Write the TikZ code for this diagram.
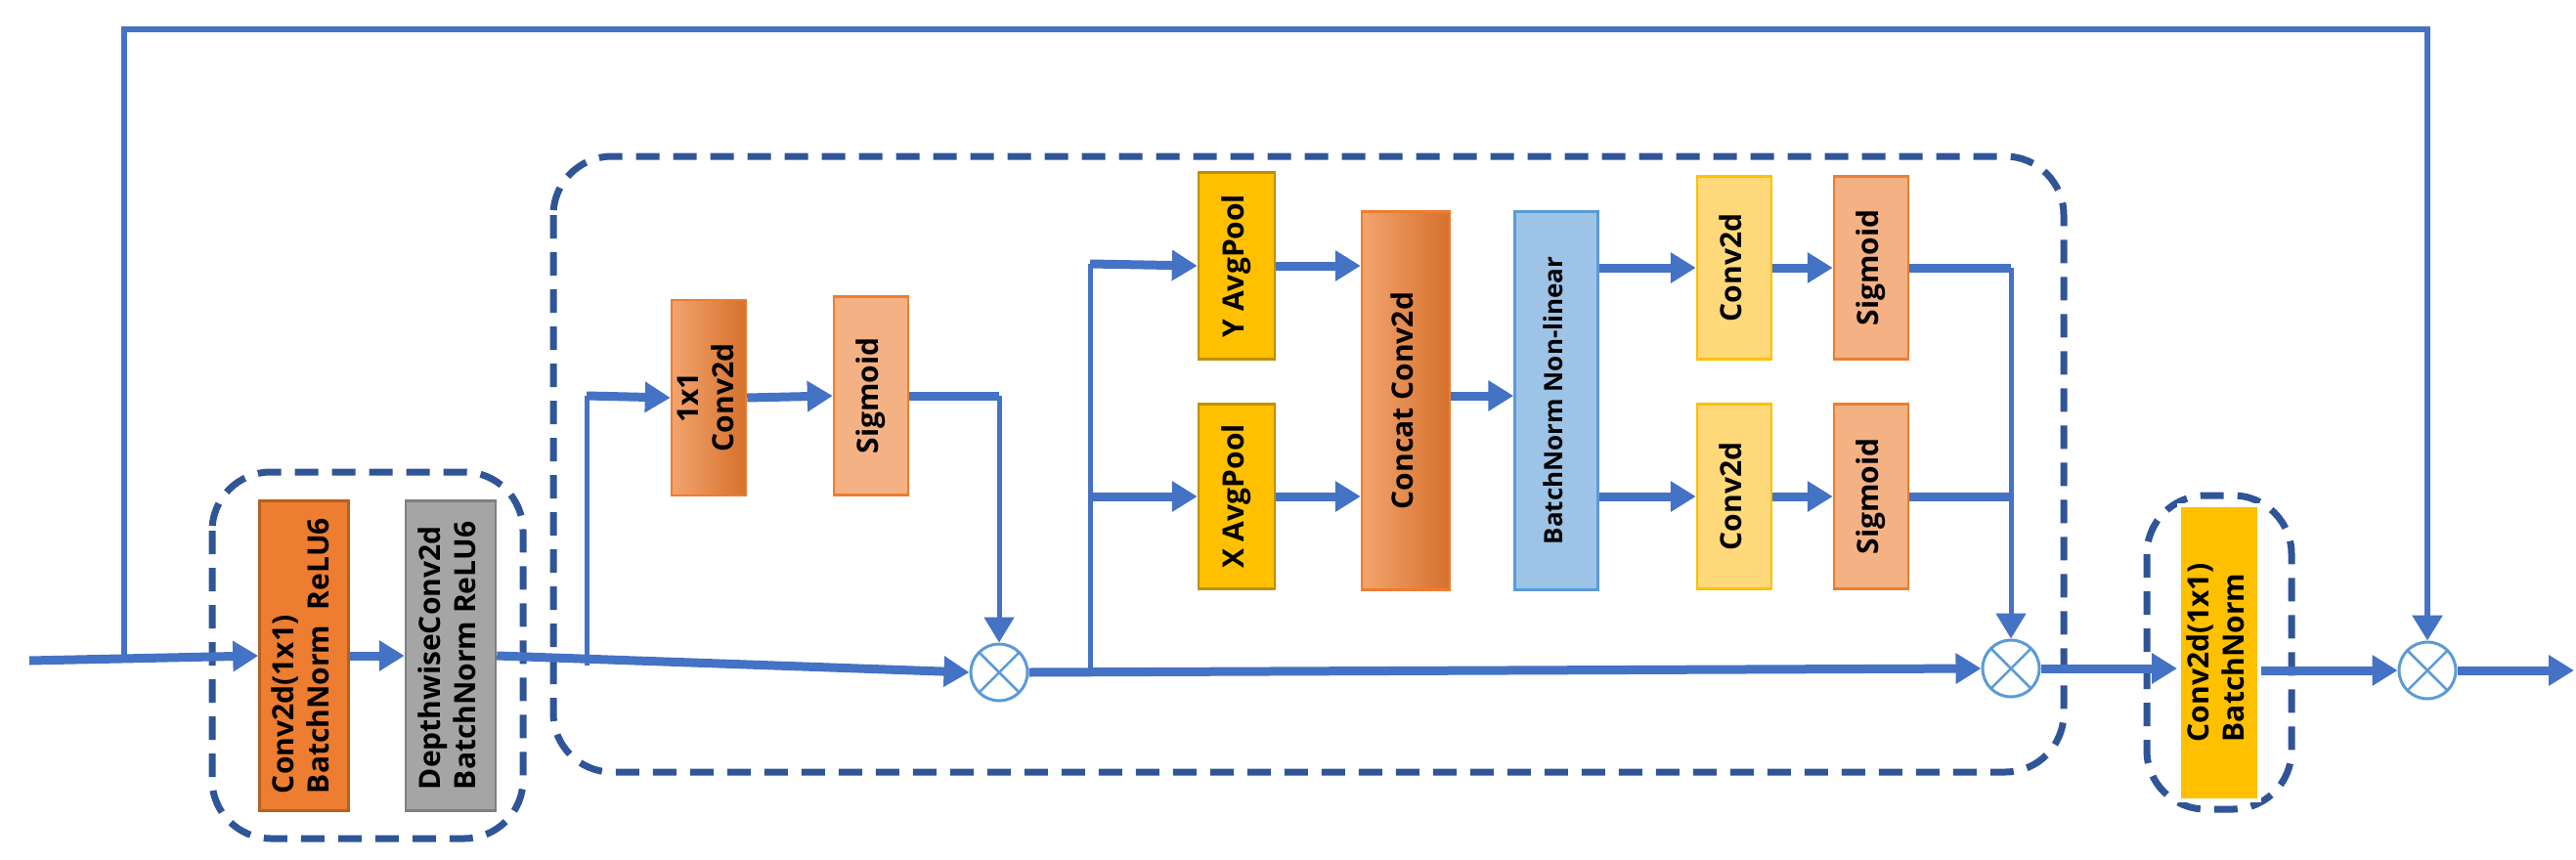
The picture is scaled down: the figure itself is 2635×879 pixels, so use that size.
\documentclass[tikz,border=0pt]{standalone}
\usepackage{fontspec}
\setmainfont{Open Sans}
\usetikzlibrary{arrows.meta,calc}
\definecolor{ln}{HTML}{4472C4}
\definecolor{dsh}{HTML}{2F5597}
\definecolor{org}{HTML}{ED7D31}
\definecolor{orgd}{HTML}{B85F1F}
\definecolor{sig}{HTML}{F4B183}
\definecolor{yel}{HTML}{FFC000}
\definecolor{yeld}{HTML}{BF9000}
\definecolor{lyel}{HTML}{FFD97A}
\definecolor{gr}{HTML}{A5A5A5}
\definecolor{grd}{HTML}{7F7F7F}
\definecolor{lb}{HTML}{9DC3E6}
\definecolor{lbd}{HTML}{5B9BD5}
\newcommand{\vt}[1]{\rotatebox{90}{\begin{tabular}{@{}l@{}}#1\end{tabular}}}
\begin{document}
\begin{tikzpicture}[x=1pt,y=-1pt,
  box/.style={draw,line width=2.5pt,inner sep=0pt,font=\fontsize{30}{36}\selectfont\bfseries},
  grp/.style={draw=dsh,line width=7pt,dash pattern=on 24pt off 14pt,rounded corners=60pt},
  thick/.style={draw=ln,line width=9pt},
  thin/.style={draw=ln,line width=5pt},
  arr/.style={-{Triangle[length=26pt,width=30pt]}},
  mul/.style={circle,draw=lbd,fill=white,line width=3pt,minimum size=58pt,inner sep=0pt,
    path picture={\draw[lbd,line width=2.5pt] (path picture bounding box.north west)--(path picture bounding box.south east) (path picture bounding box.north east)--(path picture bounding box.south west);}}]
\useasboundingbox (0,0) rectangle (2635,879);
% groups
\draw[grp] (217,483) rectangle (535,858);
\draw[grp] (566,160) rectangle (2111,790);
\draw[grp] (2196,507) rectangle (2344,828);
% boxes
\node[box,fill=org,draw=orgd,minimum width=91pt,minimum height=317pt] (c1) at (311,671) {\vt{Conv2d(1x1)\\BatchNorm\ \ ReLU6}};
\node[box,fill=gr,draw=grd,minimum width=92pt,minimum height=317pt] (c2) at (461,671) {\vt{DepthwiseConv2d\\BatchNorm ReLU6}};
\node[box,left color=org!70!white,right color=org!90!black,draw=org,minimum width=76pt,minimum height=200pt] (k1) at (725,407) {\vt{\hfill1x1\hfill\null\\Conv2d}};
\node[box,fill=sig,draw=org,minimum width=76pt,minimum height=203pt] (s1) at (891,405) {\vt{Sigmoid}};
\node[box,fill=yel,draw=yeld,minimum width=78pt,minimum height=191pt] (ya) at (1265,272) {\vt{Y AvgPool}};
\node[box,fill=yel,draw=yeld,minimum width=78pt,minimum height=189pt] (xa) at (1265,508) {\vt{X AvgPool}};
\node[box,left color=org!70!white,right color=org!90!black,draw=org,minimum width=90pt,minimum height=387pt] (cc) at (1438,410) {\vt{Concat Conv2d}};
\node[box,fill=lb,draw=lbd,minimum width=85pt,minimum height=387pt,font=\fontsize{26}{30}\selectfont\bfseries] (bn) at (1592,410) {\vt{BatchNorm Non-linear}};
\node[box,fill=lyel,draw=yel,minimum width=76pt,minimum height=187pt] (ct) at (1774,274) {\vt{Conv2d}};
\node[box,fill=lyel,draw=yel,minimum width=76pt,minimum height=189pt] (cb) at (1774,508) {\vt{Conv2d}};
\node[box,fill=sig,draw=org,minimum width=76pt,minimum height=187pt] (st) at (1914,274) {\vt{Sigmoid}};
\node[box,fill=sig,draw=org,minimum width=76pt,minimum height=189pt] (sb) at (1914,508) {\vt{Sigmoid}};
\node[box,fill=yel,draw=white,line width=4pt,minimum width=82pt,minimum height=302pt] (fc) at (2270,668) {\vt{Conv2d(1x1)\\BatchNorm}};
% multipliers
\node[mul] (m1) at (1022,688) {};
\node[mul] (m2) at (2057,684) {};
\node[mul] (m3) at (2483,686) {};
\coordinate (in) at (30,676);
\coordinate (out) at (2633,686);
\coordinate (top) at (127,676);
% connectors
\draw[thick,arr] (in) -- (c1.west);
\draw[thin,line width=6pt,arr] (top) -- (127,30) -- (2483,30) -- (m3.north);
\draw[thick,arr] (c1.east) -- (c2.west);
\draw[thick,arr] (c2.east) -- (m1.west);
\draw[thin] (600,681) -- (600,405);
\draw[thick,arr] (600,405) -- (k1.west);
\draw[thick,arr] (k1.east) -- (s1.west);
\draw[thick] (s1.east) -- (1022,405);
\draw[thin,arr] (1022,405) -- (m1.north);
\draw[thick,arr] (m1.east) -- (m2.west);
\draw[thin] (1115,686) -- (1115,270);
\draw[thick,arr] (1115,270) -- (ya.west);
\draw[thick,arr] (1115,508) -- (xa.west);
\draw[thick,arr] (ya.east) -- (ya.east -| cc.west);
\draw[thick,arr] (xa.east) -- (xa.east -| cc.west);
\draw[thick,arr] (cc.east |- 0,405) -- (bn.west |- 0,405);
\draw[thick,arr] (bn.east |- ct.west) -- (ct.west);
\draw[thick,arr] (bn.east |- cb.west) -- (cb.west);
\draw[thick,arr] (ct.east) -- (st.west);
\draw[thick,arr] (cb.east) -- (sb.west);
\draw[thick] (st.east) -- (2057,274);
\draw[thick] (sb.east) -- (2057,508);
\draw[thin,arr] (2057,274) -- (m2.north);
\draw[thick,arr] (m2.east) -- (fc.west |- m2.east);
\draw[thick,arr] (fc.east |- m3.west) -- (m3.west);
\draw[thick,arr] (m3.east) -- (out);
\end{tikzpicture}
\end{document}
